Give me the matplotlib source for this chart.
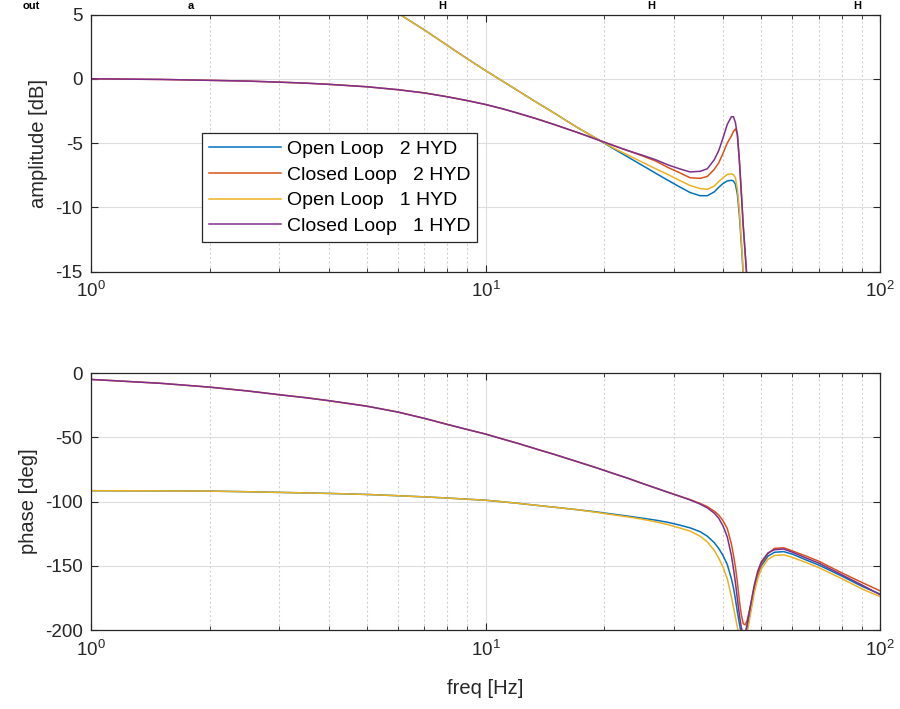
import matplotlib
matplotlib.use('Agg')
import matplotlib.pyplot as plt
from matplotlib.ticker import LogLocator, NullFormatter

plt.rcParams['font.family'] = ['Liberation Sans', 'DejaVu Sans']
plt.rcParams['mathtext.fontset'] = 'custom'
plt.rcParams['mathtext.rm'] = 'Liberation Sans'
plt.rcParams['mathtext.it'] = 'Liberation Sans:italic'
plt.rcParams['mathtext.bf'] = 'Liberation Sans:bold'
plt.rcParams['axes.unicode_minus'] = False

# frequency points [Hz]
freq = [1, 1.5, 2, 2.5, 3, 3.5, 4, 5, 6, 7, 8, 9, 10, 11, 12, 13.5, 15, 17, 19, 21, 23, 25,
        27, 29, 31, 33, 35, 36.5, 38, 39, 40, 41, 42, 42.5, 43, 43.5, 44, 44.5, 45, 45.5, 46,
        47, 48, 49, 50, 52, 54, 57, 60, 65, 70, 80, 90, 100]

# amplitude [dB]
amp_ol2 = [20.6, 17.1, 14.6, 12.6, 11.1, 9.7, 8.6, 6.7, 5.1, 3.8, 2.6, 1.55, 0.64, -0.15,
           -0.87, -1.85, -2.7, -3.75, -4.6, -5.4, -6.1, -6.75, -7.35, -7.9, -8.4, -8.85, -9.1,
           -9.1, -8.8, -8.45, -8.15, -7.95, -7.9, -7.95, -8.2, -9.0, -10.6, -12.8, -15.2, -17.7,
           -20, -22, -26, -28, -27, -25, -23, -22, -21.5, -21, -21, -22, -23, -24]
amp_cl2 = [0, -0.05, -0.12, -0.18, -0.26, -0.34, -0.43, -0.62, -0.85, -1.1, -1.4, -1.7, -2.0,
           -2.32, -2.65, -3.12, -3.58, -4.15, -4.68, -5.17, -5.6, -6.0, -6.4, -6.9, -7.3, -7.7,
           -7.75, -7.6, -7.05, -6.55, -5.8, -5.0, -4.45, -4.1, -3.9, -4.3, -6.4, -8.8, -11.4,
           -13.5, -15.5, -20, -25, -28, -27, -25, -23, -22, -21.5, -21, -21, -22, -23, -24]
amp_ol1 = [20.6, 17.1, 14.6, 12.6, 11.1, 9.7, 8.6, 6.7, 5.1, 3.8, 2.6, 1.55, 0.64, -0.15,
           -0.87, -1.85, -2.7, -3.75, -4.6, -5.35, -5.95, -6.5, -7.0, -7.45, -7.9, -8.3, -8.55,
           -8.6, -8.35, -8.0, -7.7, -7.45, -7.4, -7.45, -7.7, -8.6, -10.2, -12.5, -15.0, -17.5,
           -20, -22, -26, -28, -27, -25, -23, -22, -21.5, -21, -21, -22, -23, -24]
amp_cl1 = [0, -0.05, -0.12, -0.18, -0.26, -0.34, -0.43, -0.62, -0.85, -1.1, -1.4, -1.7, -2.0,
           -2.32, -2.65, -3.12, -3.58, -4.15, -4.68, -5.17, -5.6, -5.95, -6.3, -6.7, -7.0, -7.25,
           -7.2, -7.0, -6.3, -5.6, -4.6, -3.55, -2.95, -2.95, -3.4, -4.4, -6.3, -8.8, -11.4,
           -13.5, -15.6, -20, -25, -28, -27, -25, -23, -22, -21.5, -21, -21, -22, -23, -24]

# phase [deg]
ph_ol2 = [-91.6, -91.7, -91.9, -92.4, -92.9, -93.3, -93.7, -94.5, -95.5, -96.4, -97.3, -98.2,
          -99.0, -100.2, -101.3, -103, -104.5, -106.3, -108, -109.8, -111.4, -113, -114.5,
          -116.2, -118.3, -120.5, -123.5, -127, -132, -136.5, -142, -149, -160, -167, -176,
          -186, -195, -203, -208, -207, -200, -184, -168, -157, -150, -142.5, -139.5, -139,
          -141, -145.5, -149.5, -158, -166, -172]
ph_cl2 = [-5.0, -8.0, -11.0, -14.0, -16.9, -19.2, -21.5, -25.8, -30.4, -35.3, -40.0, -44.0,
          -47.5, -51.2, -54.5, -59.3, -63.5, -68.8, -73.5, -78, -82, -86, -89.5, -92.8, -95.8,
          -98.5, -101.5, -104, -107.5, -110.5, -115, -121, -133, -141.5, -151, -163, -177, -188,
          -195, -196, -193, -181, -167, -156, -148.5, -140.5, -136.5, -136, -138.5, -142.5,
          -146.5, -155.5, -163, -169.5]
ph_ol1 = [-91.6, -91.7, -91.9, -92.4, -92.9, -93.3, -93.7, -94.5, -95.5, -96.4, -97.3, -98.2,
          -99.0, -100.2, -101.3, -103, -104.5, -106.3, -108.3, -110.3, -112, -113.8, -115.8,
          -118, -120.5, -123, -127, -131.5, -138, -144, -151, -160, -174, -182, -190, -198,
          -205, -210, -212, -210, -203, -187, -171, -160, -152.5, -145, -142, -141.5, -143.5,
          -147.5, -151.5, -160, -168, -174]
ph_cl1 = [-5.0, -8.0, -11.0, -14.0, -16.9, -19.2, -21.5, -25.8, -30.4, -35.3, -40.0, -44.0,
          -47.5, -51.2, -54.5, -59.3, -63.5, -68.8, -73.5, -78, -82, -86, -89.5, -92.8, -95.8,
          -98.8, -102, -105, -109, -113, -119, -127.5, -142, -152, -163, -176, -188, -198, -204,
          -203, -196, -180, -165, -154, -147, -140, -137.5, -137, -139.5, -144, -148, -157,
          -165, -172.5]

labels = ['Open Loop   2 HYD', 'Closed Loop   2 HYD', 'Open Loop   1 HYD', 'Closed Loop   1 HYD']
colors = ['#0072BD', '#D95319', '#EDB120', '#7E2F8E']

fig = plt.figure(figsize=(9, 7.09), dpi=100)
ax1 = fig.add_axes([0.1011, 0.617, 0.8767, 0.3625])
ax2 = fig.add_axes([0.1011, 0.1114, 0.8767, 0.3625])

for y, c, l in zip([amp_ol2, amp_cl2, amp_ol1, amp_cl1], colors, labels):
    ax1.semilogx(freq, y, color=c, lw=1.1, label=l)
for y, c in zip([ph_ol2, ph_cl2, ph_ol1, ph_cl1], colors):
    ax2.semilogx(freq, y, color=c, lw=1.1)

ax1.set_ylim(-15, 5)
ax1.set_yticks([-15, -10, -5, 0, 5])
ax2.set_ylim(-200, 0)
ax2.set_yticks([-200, -150, -100, -50, 0])

for ax in (ax1, ax2):
    ax.set_xlim(1, 100)
    ax.xaxis.set_major_locator(LogLocator(base=10, numticks=5))
    ax.xaxis.set_minor_locator(LogLocator(base=10, subs=range(2, 10), numticks=20))
    ax.xaxis.set_minor_formatter(NullFormatter())
    ax.grid(True, which='major', color='#dedede', lw=0.8, ls='-')
    ax.grid(True, which='minor', axis='x', color='#d2d2d2', lw=0.8, ls=(0, (2, 2)))
    ax.set_axisbelow(True)
    ax.tick_params(which='both', direction='in', top=True, right=True, labelsize=13.5,
                   colors='#262626', labelcolor='#262626')
    ax.tick_params(which='major', length=5, width=0.8)
    ax.tick_params(which='minor', length=3, width=0.6)
    ax.tick_params(axis='x', pad=7)
    ax.tick_params(axis='y', pad=6)
    for s in ax.spines.values():
        s.set_color('#262626')
        s.set_linewidth(0.9)

ax1.set_ylabel('amplitude [dB]', fontsize=14.5, color='#262626', labelpad=5)
ax2.set_ylabel('phase [deg]', fontsize=14.5, color='#262626', labelpad=5)
ax2.set_xlabel('freq [Hz]', fontsize=14.5, color='#262626', labelpad=14)

leg = ax1.legend(loc='lower left', bbox_to_anchor=(0.1407, 0.115), borderaxespad=0,
                 fontsize=14, handlelength=3.7, handletextpad=0.3, labelspacing=0.42,
                 fancybox=False, framealpha=1, edgecolor='#262626', borderpad=0.35)
leg.get_frame().set_linewidth(0.9)

# remains of the title line above the plot
for x, t in [(0.035, 'out'), (0.212, 'a'), (0.491, 'H'), (0.724, 'H'), (0.953, 'H')]:
    fig.text(x, 0.999, t, fontsize=8, fontweight='bold', va='top', ha='center')

fig.savefig('out.png', dpi=100)
